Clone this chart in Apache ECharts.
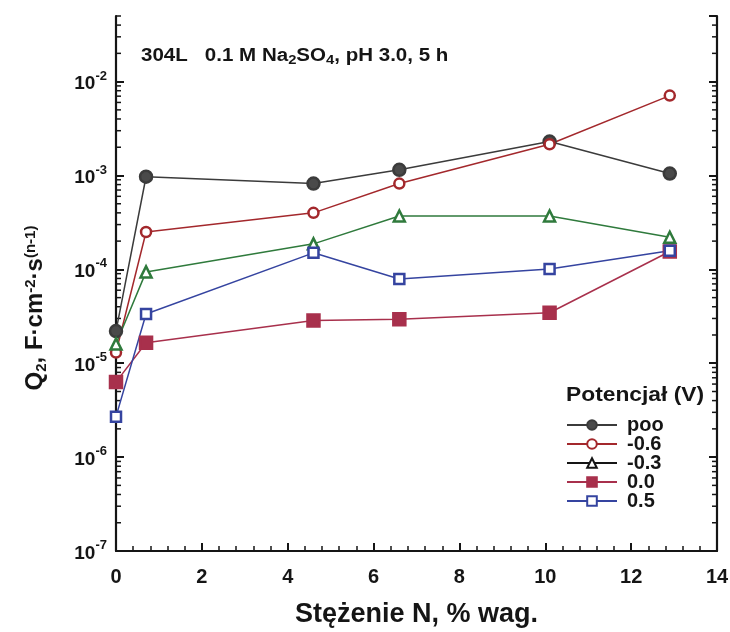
<!DOCTYPE html>
<html><head><meta charset="utf-8">
<script src="https://cdn.jsdelivr.net/npm/echarts@6/dist/echarts.min.js"></script>
<style>html,body{margin:0;padding:0;background:#fff}#c{width:730px;height:632px}</style>
</head><body><div id="c"></div>
<script>
// ---- data ----
const xN   = [0, 0.7, 4.6, 6.6, 10.1, 12.9];
const sPoo = [2.2e-5, 9.7e-4, 8.2e-4, 1.15e-3, 2.3e-3, 1.05e-3];
const sM06 = [1.3e-5, 2.5e-4, 4.0e-4, 8.2e-4, 2.15e-3, 7.1e-3];
const sM03 = [1.6e-5, 9.4e-5, 1.87e-4, 3.7e-4, 3.7e-4, 2.2e-4];
const s00  = [6.3e-6, 1.65e-5, 2.85e-5, 2.95e-5, 3.45e-5, 1.55e-4];
const s05  = [2.7e-6, 3.35e-5, 1.5e-4, 7.9e-5, 1.01e-4, 1.58e-4];
const seriesNames = ['poo', '-0.6', '-0.3', '0.0', '0.5'];
const yDecades = [-7, -6, -5, -4, -3, -2];
const xTicks = [0, 2, 4, 6, 8, 10, 12, 14];
const yMin = 1e-7, yMax = 0.05;

const FONT = '"Liberation Sans", Arial, sans-serif';
const INK = '#151515';
const pair = arr => xN.map((x, i) => [x, arr[i]]);

// minor tick values for the log axis (2..9 x 10^k)
const minorVals = [];
yDecades.forEach(e => { for (let m = 2; m <= 9; m++) { const v = m * Math.pow(10, e); if (v <= yMax) minorVals.push([0, v]); } });

const chart = echarts.init(document.getElementById('c'), null, {renderer: 'canvas'});

const lineSeries = (name, data, color, symbol, fill, size) => ({
  name, type: 'line', data: pair(data), symbol, symbolSize: size,
  lineStyle: {color, width: 1.5},
  itemStyle: {color: fill, borderColor: color, borderWidth: 2.5},
  z: 3, clip: false
});

chart.setOption({
  animation: false,
  backgroundColor: '#fff',
  grid: {left: 116, right: 13, top: 16, bottom: 81, containLabel: false, outerBoundsMode: 'none'},
  xAxis: {
    type: 'value', min: 0, max: 14, interval: 2,
    name: 'Stężenie N, % wag.', nameLocation: 'middle', nameGap: 50,
    nameTextStyle: {fontSize: 27, fontWeight: 'bold', fontFamily: FONT, color: INK},
    axisLine: {lineStyle: {color: INK, width: 2.2}},
    axisTick: {inside: true, length: 8, lineStyle: {color: INK, width: 2}},
    minorTick: {show: true, splitNumber: 5, length: 5, lineStyle: {color: INK, width: 1.5}},
    splitLine: {show: false},
    axisLabel: {fontSize: 20, fontWeight: 'bold', fontFamily: FONT, color: INK, margin: 16,
      formatter: v => xTicks.includes(v) ? String(v) : ''}
  },
  yAxis: [{
    type: 'log', logBase: 10, min: yMin, max: yMax,
    axisLine: {show: true, lineStyle: {color: INK, width: 2.2}},
    axisTick: {inside: true, length: 8, lineStyle: {color: INK, width: 2}},
    splitLine: {show: false},
    axisLabel: {margin: 9, showMaxLabel: false,
      formatter: v => { const e = Math.log10(v); const r = Math.round(e); return Math.abs(e - r) < 1e-6 && yDecades.includes(r) ? '{b|10}{s|' + r + '}' : ''; },
      rich: {
        b: {fontSize: 19, fontWeight: 'bold', fontFamily: FONT, color: INK, lineHeight: 24, verticalAlign: 'bottom'},
        s: {fontSize: 13, fontWeight: 'bold', fontFamily: FONT, color: INK, lineHeight: 14, verticalAlign: 'top'}
      }}
  }, {
    type: 'log', logBase: 10, min: yMin, max: yMax, position: 'right',
    axisLine: {show: true, lineStyle: {color: INK, width: 2.2}},
    axisTick: {inside: true, length: 8, lineStyle: {color: INK, width: 2}},
    axisLabel: {show: false}, splitLine: {show: false}
  }],
  legend: {
    orient: 'vertical', left: 561, top: 410, itemWidth: 50, itemHeight: 12, itemGap: -1,
    data: [
      {name: 'poo'}, {name: '-0.6'},
      {name: '-0.3', lineStyle: {color: INK}, itemStyle: {borderColor: INK}},
      {name: '0.0'}, {name: '0.5'}
    ],
    textStyle: {fontSize: 20, fontWeight: 'bold', fontFamily: FONT, color: INK, lineHeight: 18.6, padding: [0,0,0,5]},
    backgroundColor: 'transparent'
  },
  graphic: [
    {type: 'text', x: 141, y: 57, scaleX: 1.14, style: {
      text: '{t|304L}{g|   }{t|0.1 M Na}{sb|2}{t|SO}{sb|4}{t|, pH 3.0, 5 h}',
      verticalAlign: 'middle',
      rich: {
        t: {fontSize: 18, fontWeight: 'bold', fontFamily: FONT, fill: INK, lineHeight: 20, verticalAlign: 'top'},
        g: {fontSize: 18, fontFamily: FONT, lineHeight: 20, verticalAlign: 'top'},
        sb: {fontSize: 13, fontWeight: 'bold', fontFamily: FONT, fill: INK, lineHeight: 13, verticalAlign: 'bottom'}
      }}},
    {type: 'text', x: 566, y: 395, scaleX: 1.14, style: {text: 'Potencjał (V)', fontSize: 20, fontWeight: 'bold', fontFamily: FONT, fill: INK, verticalAlign: 'middle'}},
    {type: 'text', x: 36, y: 308, rotation: Math.PI / 2, style: {
      text: '{a|Q}{sb|2}{a|, F·cm}{sp|-2}{a|·s}{sp|(n-1)}',
      align: 'center', verticalAlign: 'middle',
      rich: {
        a: {fontSize: 24, fontWeight: 'bold', fontFamily: FONT, fill: INK, lineHeight: 26, verticalAlign: 'top'},
        sb: {fontSize: 15, fontWeight: 'bold', fontFamily: FONT, fill: INK, lineHeight: 14, verticalAlign: 'bottom'},
        sp: {fontSize: 15, fontWeight: 'bold', fontFamily: FONT, fill: INK, lineHeight: 14, verticalAlign: 'top'}
      }}}
  ],
  series: [
    lineSeries('poo', sPoo, '#3b3b3b', 'circle', '#4a4a4a', 12),
    lineSeries('-0.6', sM06, '#a3282c', 'circle', '#fff', 10),
    lineSeries('-0.3', sM03, '#2f7a3c', 'triangle', '#fff', 11),
    lineSeries('0.0', s00, '#a8304c', 'rect', '#a8304c', 12),
    lineSeries('0.5', s05, '#3544a0', 'rect', '#fff', 10),
    {
      type: 'custom', silent: true, data: minorVals, yAxisIndex: 0, z: 2, clip: false,
      renderItem: (params, api) => {
        const v = api.value(1);
        const p = api.coord([0, v]);
        const q = api.coord([14, v]);
        return {type: 'group', children: [
          {type: 'line', shape: {x1: p[0], y1: p[1], x2: p[0] + 5, y2: p[1]}, style: {stroke: INK, lineWidth: 1.5}},
          {type: 'line', shape: {x1: q[0] - 5, y1: q[1], x2: q[0], y2: q[1]}, style: {stroke: INK, lineWidth: 1.5}}
        ]};
      }
    }
  ]
});
</script></body></html>
